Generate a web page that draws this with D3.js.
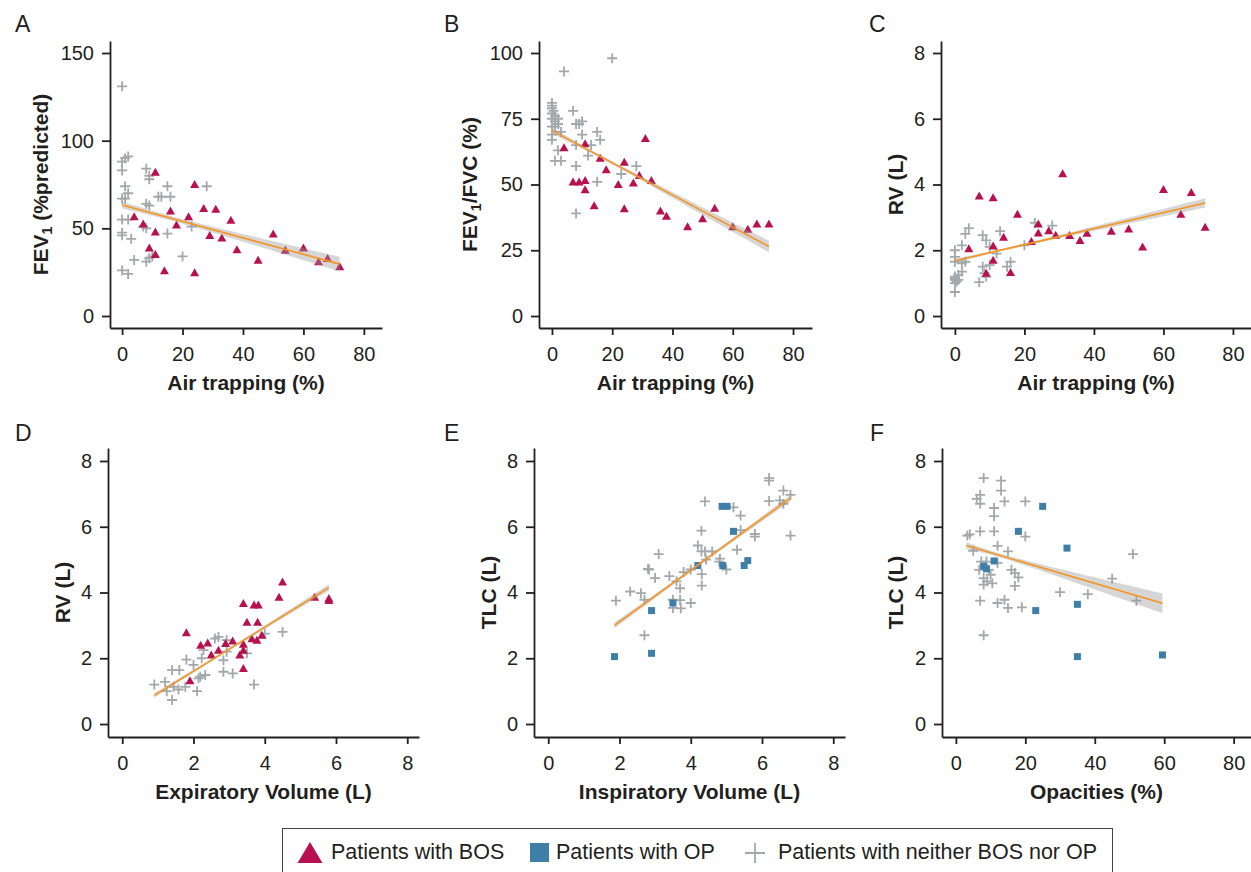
<!DOCTYPE html>
<html><head><meta charset="utf-8">
<script src="https://cdn.jsdelivr.net/npm/d3@7"></script>
<style>
body{margin:0;background:#fff}
svg{display:block}
text{font-family:"Liberation Sans",Arial,Helvetica,sans-serif;fill:#231f20}
</style>
</head><body>
<svg id="chart" width="1251" height="872"></svg>
<script>
// ---------------- DATA ----------------
const pctTicks = [0, 20, 40, 60, 80];
const litreTicks = [0, 2, 4, 6, 8];
const fevTicks = [0, 50, 100, 150];
const ratioTicks = [0, 25, 50, 75, 100];

const legendLabels = ["Patients with BOS", "Patients with OP", "Patients with neither BOS nor OP"];

// A: Air trapping (%) vs FEV1 (%predicted)
const aBOS = [[11,82],[24,75],[27,61.4],[31,61],[16,60],[36,54.6],[4,56.7],[22,56.7],[7,52.5],[18,51.9],[11,48],[29,46],[33,44.5],[50,46.8],[9,38.8],[11,35.2],[38,37.8],[54,37.6],[60,38.8],[45,31.9],[14,25.9],[24,24.7],[65,31],[68,32.9],[72,28.1]];
const aNeither = [[0,131],[2,91],[1,90],[0,88],[0,83],[8,84],[9,80],[9,78],[1,74],[15,74],[28,74],[2,70],[0,67],[1,67],[12,68],[13,68],[16,68],[8,64],[9,63],[0,55],[2,55],[7,51],[8,50],[15,47],[23,51],[0,47.5],[0,46],[3,44],[4,32],[8,31],[9,33],[10,34],[20,34],[0,26],[2,24]];
const fitA = [0, 63.3, 72, 29.6];
const bandA = [15, 2.0, 1.3, 4.2];

// B: Air trapping (%) vs FEV1/FVC (%)
const bBOS = [[4,64],[7,51],[9,51],[11,65.5],[11,51.6],[11,48],[14,42],[16,60],[18,55.6],[22,50],[24,58.5],[24,40.8],[27,50.6],[29,53.5],[31,67.5],[33,51.6],[36,40],[38,38],[45,34],[50,37],[54,41],[60,34],[65,33],[68,35],[72,35]];
const bNeither = [[20,98],[4,93],[0,81],[0,80],[0,79],[0.5,78],[0,77],[1,76],[0,75],[1,74],[2,73],[0,72],[1,72],[2,75],[0,69],[0,67],[3,70],[7,78],[8,73],[9,73],[10,74],[10,69],[8,65],[15,70],[16,67],[13,65],[12,61],[2,63],[1,59],[3,59],[8,57],[15,51],[23,54],[28,57],[8,39]];
const fitB = [0, 70.5, 72, 26.4];
const bandB = [15, 1.2, 0.6, 2.2];

// C: Air trapping (%) vs RV (L)
const cBOS = [[7,3.65],[11,3.6],[4,2.05],[18,3.1],[31,4.33],[11,2.13],[14,2.4],[11,1.7],[9,1.3],[16,1.33],[22,2.27],[24,2.8],[24,2.53],[27,2.6],[29,2.46],[33,2.45],[36,2.3],[38,2.52],[45,2.58],[50,2.65],[54,2.1],[60,3.85],[65,3.1],[68,3.76],[72,2.7]];
const cNeither = [[4,2.67],[3,2.5],[8,2.46],[9,2.3],[10,2.1],[13,2.58],[2,2.15],[0,2.0],[0,1.8],[0,1.65],[2,1.6],[3,1.65],[2,1.35],[1,1.25],[0,1.2],[0,1.15],[0,1.1],[0.5,1.05],[1,1.1],[0,1.0],[0,0.73],[8,1.5],[8.5,1.3],[10,1.55],[7,1.03],[9,1.2],[12,1.9],[16,1.65],[15,1.5],[20,2.15],[23,2.83],[28,2.75]];
const fitC = [0, 1.68, 72, 3.44];
const bandC = [15, 0.06, 0.035, 0.14];

// D: Expiratory Volume (L) vs RV (L)
const dBOS = [[1.8,2.78],[1.9,1.32],[2.2,2.4],[2.4,2.47],[2.5,2.1],[2.7,2.25],[2.9,2.45],[3.1,2.53],[3.3,2.1],[3.4,2.43],[3.4,2.25],[3.4,1.69],[3.4,3.67],[3.5,3.1],[3.7,3.62],[3.82,3.62],[3.8,3.1],[3.64,2.6],[3.78,2.55],[3.92,2.7],[4.4,3.86],[4.5,4.32],[5.4,3.86],[5.8,3.82],[5.8,3.76]];
const dNeither = [[0.9,1.2],[1.2,1.28],[1.25,1.0],[1.4,0.73],[1.4,1.64],[1.6,1.64],[1.58,1.05],[1.44,1.13],[1.8,1.96],[1.77,1.13],[2.1,1.0],[2.0,1.8],[2.14,1.39],[2.23,2.0],[2.28,2.25],[2.33,1.49],[2.19,1.44],[2.6,2.6],[2.7,2.65],[2.93,2.55],[2.84,1.94],[2.93,2.2],[2.84,1.59],[3.1,1.54],[3.5,2.15],[3.7,1.2],[4.0,2.75],[4.5,2.8]];
const fitD = [0.9, 0.87, 5.8, 4.15];
const bandD = [2.8, 0.07, 0.04, 0.1];

// E: Inspiratory Volume (L) vs TLC (L)
const eOP = [[1.86,2.05],[2.9,2.15],[2.9,3.45],[3.5,3.68],[4.2,4.82],[4.9,4.82],[4.88,6.62],[5.02,6.62],[5.2,5.86],[5.5,4.82],[5.6,4.97]];
const eNeither = [[1.9,3.75],[2.3,4.03],[2.6,3.98],[2.7,3.78],[2.7,2.7],[2.8,4.72],[2.83,4.7],[3.0,4.44],[3.1,5.17],[3.4,4.5],[3.5,3.78],[3.5,3.53],[3.6,4.34],[3.7,4.13],[3.7,3.77],[3.72,3.52],[3.8,4.62],[4.0,3.68],[4.0,4.7],[4.2,5.43],[4.3,5.88],[4.3,5.25],[4.31,4.56],[4.31,4.21],[4.4,6.77],[4.4,5.25],[4.6,5.25],[4.43,5.0],[4.8,4.94],[4.82,5.03],[5.0,4.7],[5.2,6.59],[5.4,6.34],[5.4,5.9],[5.3,5.3],[5.8,5.78],[5.8,5.7],[6.2,7.48],[6.2,7.4],[6.2,6.78],[6.5,6.8],[6.6,7.1],[6.6,6.7],[6.8,6.97],[6.8,5.73]];
const fitE = [1.86, 3.0, 6.8, 6.87];
const bandE = [4.3, 0.09, 0.05, 0.1];

// F: Opacities (%) vs TLC (L)
const fOP = [[25,6.62],[18,5.86],[32,5.35],[11,4.96],[8,4.8],[8.8,4.72],[23,3.45],[35,3.64],[35,2.05],[59.5,2.1]];
const fNeither = [[8,7.48],[13,7.4],[13,7.1],[7,6.97],[6,6.85],[7,6.7],[11,6.57],[11,6.32],[14,6.77],[20,6.77],[3.3,5.73],[4,5.77],[7,5.86],[11,5.86],[20,5.7],[12,5.42],[5,5.27],[15,5.25],[7.3,4.94],[8.8,4.94],[12,4.9],[6.7,4.69],[9.5,4.69],[10,4.54],[9,4.34],[8,4.24],[10.5,4.28],[8,4.44],[16,4.69],[17,4.59],[18,4.46],[17,4.2],[7,3.75],[12,3.68],[14,3.78],[15,3.53],[19,3.55],[8,2.7],[30,4.01],[38,3.95],[45,4.42],[51,5.17],[52,3.75]];
const fitF = [3, 5.43, 59.5, 3.67];
const bandF = [12, 0.1, 0.06, 0.3];

// ---------------- STYLE / LAYOUT ----------------
const COL_BOS = "#b8114f", COL_OP = "#3f7fa7", COL_NEI = "#a2a9ad";
const COL_FIT = "#f7941d", COL_AXIS = "#231f20";

const panels = [
  {letter:"A", bos:aBOS, op:null, nei:aNeither, fit:fitA, band:bandA, xTicks:pctTicks, yTicks:fevTicks,
   xTitle:"Air trapping (%)", yTitle:"fev",
   box:{left:110,right:382,top:41,bottom:328}, xDom:[-4,86], yDom:[-6.84,156.84], lp:[15,32], yTitleX:48},
  {letter:"B", bos:bBOS, op:null, nei:bNeither, fit:fitB, band:bandB, xTicks:pctTicks, yTicks:ratioTicks,
   xTitle:"Air trapping (%)", yTitle:"ratio",
   box:{left:539,right:812,top:41,bottom:328}, xDom:[-4.3,86.3], yDom:[-4.56,104.56], lp:[444,32], yTitleX:477},
  {letter:"C", bos:cBOS, op:null, nei:cNeither, fit:fitC, band:bandC, xTicks:pctTicks, yTicks:litreTicks,
   xTitle:"Air trapping (%)", yTitle:"RV (L)",
   box:{left:941,right:1251,top:41,bottom:328}, xDom:[-4,85.2], yDom:[-0.365,8.365], lp:[869,32], yTitleX:903},
  {letter:"D", bos:dBOS, op:null, nei:dNeither, fit:fitD, band:bandD, xTicks:litreTicks, yTicks:litreTicks,
   xTitle:"Expiratory Volume (L)", yTitle:"RV (L)",
   box:{left:108,right:419,top:448,bottom:737}, xDom:[-0.4,8.33], yDom:[-0.395,8.395], lp:[15,441], yTitleX:70},
  {letter:"E", bos:null, op:eOP, nei:eNeither, fit:fitE, band:bandE, xTicks:litreTicks, yTicks:litreTicks,
   xTitle:"Inspiratory Volume (L)", yTitle:"TLC (L)",
   box:{left:534,right:845,top:448,bottom:737}, xDom:[-0.4,8.33], yDom:[-0.395,8.395], lp:[444,441], yTitleX:496},
  {letter:"F", bos:null, op:fOP, nei:fNeither, fit:fitF, band:bandF, xTicks:pctTicks, yTicks:litreTicks,
   xTitle:"Opacities (%)", yTitle:"TLC (L)",
   box:{left:942,right:1251,top:448,bottom:737}, xDom:[-4,85], yDom:[-0.395,8.395], lp:[870,441], yTitleX:903}
];

const svg = d3.select("#chart");

const triPath = (w, h) => `M0,${-h*0.55}L${w/2},${h*0.45}L${-w/2},${h*0.45}Z`;
const plusPath = (s) => `M${-s},0H${s}M0,${-s}V${s}`;

panels.forEach(p => {
  const b = p.box;
  const x = d3.scaleLinear().domain(p.xDom).range([b.left, b.right]);
  const y = d3.scaleLinear().domain(p.yDom).range([b.bottom, b.top]);
  const g = svg.append("g");

  // panel letter
  g.append("text").attr("x", p.lp[0]).attr("y", p.lp[1]).attr("font-size", 23).text(p.letter);

  // neither points (plus)
  g.append("g").selectAll("path").data(p.nei).join("path")
    .attr("transform", d => `translate(${x(d[0])},${y(d[1])})`)
    .attr("d", plusPath(5))
    .attr("stroke", COL_NEI).attr("stroke-width", 1.8).attr("fill", "none");

  // BOS triangles
  if (p.bos) {
    g.append("g").selectAll("path").data(p.bos).join("path")
      .attr("transform", d => `translate(${x(d[0])},${y(d[1])})`)
      .attr("d", triPath(9, 8))
      .attr("fill", COL_BOS);
  }
  // OP squares
  if (p.op) {
    g.append("g").selectAll("rect").data(p.op).join("rect")
      .attr("x", d => x(d[0]) - 3.5).attr("y", d => y(d[1]) - 3.5)
      .attr("width", 7).attr("height", 7)
      .attr("fill", COL_OP);
  }

  // regression fit + confidence band
  const [x0, y0, x1, y1] = p.fit;
  const [xm, h0, hc, h1] = p.band;
  const yFit = xv => y0 + (y1 - y0) * (xv - x0) / (x1 - x0);
  const hw = xv => {
    const xs = xv < xm ? x0 : x1, hs = xv < xm ? h0 : h1;
    const t = (xv - xm) / (xs - xm);
    return Math.sqrt(hc * hc + (hs * hs - hc * hc) * t * t);
  };
  const xs = d3.range(0, 41).map(i => x0 + (x1 - x0) * i / 40);
  g.append("path").datum(xs)
    .attr("d", d3.area().x(v => x(v)).y0(v => y(yFit(v) - hw(v))).y1(v => y(yFit(v) + hw(v))))
    .attr("fill", "#999").attr("fill-opacity", 0.4);
  g.append("path").datum([x0, x1])
    .attr("d", d3.line().x(v => x(v)).y(v => y(yFit(v))))
    .attr("stroke", COL_FIT).attr("stroke-width", 1.6).attr("fill", "none");

  // axes
  const ax = g.append("g").attr("transform", `translate(0,${b.bottom})`)
    .call(d3.axisBottom(x).tickValues(p.xTicks).tickSize(7).tickSizeOuter(0).tickPadding(12).tickFormat(d3.format("d")));
  const ay = g.append("g").attr("transform", `translate(${b.left},0)`)
    .call(d3.axisLeft(y).tickValues(p.yTicks).tickSize(8).tickSizeOuter(0).tickPadding(8).tickFormat(d3.format("d")));
  [ax, ay].forEach(a => {
    a.select(".domain").attr("stroke", COL_AXIS).attr("stroke-width", 1.8);
    a.selectAll(".tick line").attr("stroke", COL_AXIS).attr("stroke-width", 1.8);
    a.selectAll(".tick text").attr("font-size", 20).attr("fill", COL_AXIS)
      .attr("font-family", '"Liberation Sans",Arial,sans-serif');
  });

  // x title
  g.append("text").attr("x", (b.left + b.right) / 2).attr("y", b.bottom + 62)
    .attr("text-anchor", "middle").attr("font-size", 21).attr("font-weight", "bold").text(p.xTitle);

  // y title
  const cy = (b.top + b.bottom) / 2;
  const yt = g.append("text").attr("transform", `translate(${p.yTitleX},${cy}) rotate(-90)`)
    .attr("text-anchor", "middle").attr("font-size", 21).attr("font-weight", "bold");
  if (p.yTitle === "fev" || p.yTitle === "ratio") {
    yt.append("tspan").text("FEV");
    yt.append("tspan").attr("font-size", 14).attr("dy", 4).text("1");
    yt.append("tspan").attr("dy", -4).text(p.yTitle === "fev" ? " (%predicted)" : "/FVC (%)");
  } else {
    yt.text(p.yTitle);
  }
});

// ---------------- LEGEND ----------------
const lg = svg.append("g");
lg.append("rect").attr("x", 282.5).attr("y", 828.5).attr("width", 830).attr("height", 60)
  .attr("fill", "none").attr("stroke", "#444").attr("stroke-width", 1);
lg.append("path").attr("d", "M310,842L322.5,863L297.5,863Z").attr("fill", COL_BOS);
lg.append("text").attr("x", 331).attr("y", 859).attr("font-size", 21.5).text(legendLabels[0]);
lg.append("rect").attr("x", 530).attr("y", 843).attr("width", 19).attr("height", 19).attr("fill", COL_OP);
lg.append("text").attr("x", 556).attr("y", 859).attr("font-size", 21.5).text(legendLabels[1]);
lg.append("path").attr("d", "M745,853H765M755,843V863").attr("stroke", COL_NEI).attr("stroke-width", 1.8);
lg.append("text").attr("x", 778).attr("y", 859).attr("font-size", 21.5).text(legendLabels[2]);
</script>
</body></html>
